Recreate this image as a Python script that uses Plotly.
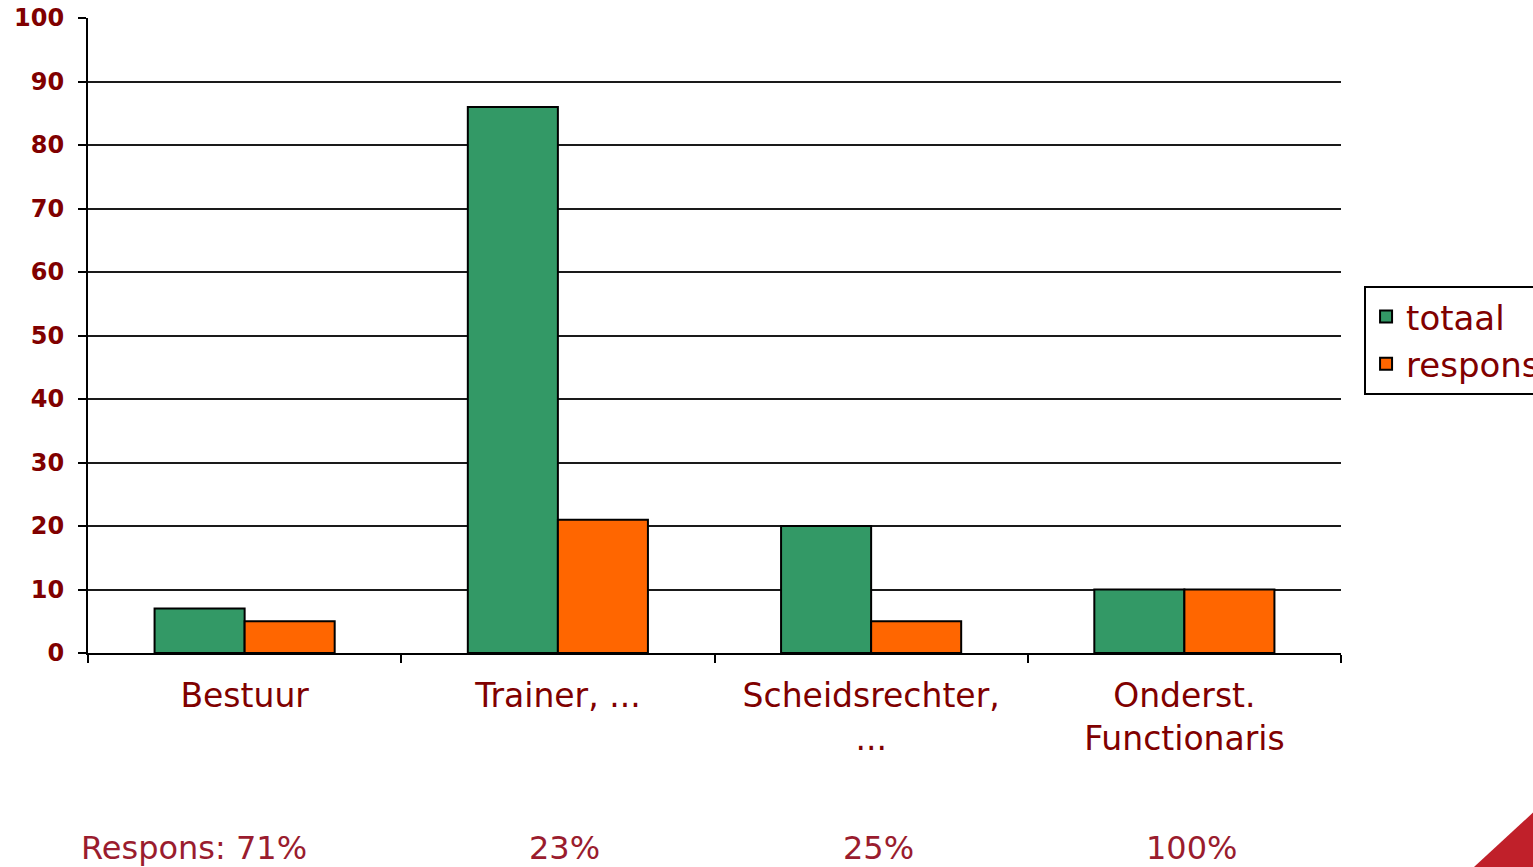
import plotly.graph_objects as go

# ------------------------------------------------------------
# Data
# ------------------------------------------------------------
categories = ["Bestuur", "Trainer, ...", "Scheidsrechter,<br>...", "Onderst.<br>Functionaris"]
totaal = [7, 86, 20, 10]
respons = [5, 21, 5, 10]
respons_pct = ["Respons: 71%", "23%", "25%", "100%"]
y_ticks = [0, 10, 20, 30, 40, 50, 60, 70, 80, 90, 100]

GREEN = "#339966"
ORANGE = "#FF6600"
DARKRED = "#800000"
PCT_RED = "#9a1c2e"
FONT = "Verdana, DejaVu Sans, sans-serif"

fig = go.Figure()
fig.add_trace(go.Bar(x=categories, y=totaal, name="totaal",
                     marker=dict(color=GREEN, line=dict(color="black", width=2))))
fig.add_trace(go.Bar(x=categories, y=respons, name="respons",
                     marker=dict(color=ORANGE, line=dict(color="black", width=2))))

# percentages under each category
for i, txt in enumerate(respons_pct):
    first = i == 0
    fig.add_annotation(x=categories[i], y=-0.307, xref="x", yref="paper", text=txt,
                       showarrow=False, xanchor="left" if first else "center",
                       yanchor="middle", xshift=-166 if first else 7,
                       font=dict(family=FONT, size=32, color=PCT_RED))

# red corner triangle
fig.add_shape(type="path", xref="paper", yref="paper",
              path="M 1.1045 -0.34 L 1.16 -0.34 L 1.16 -0.239 Z",
              fillcolor="#c0202a", line=dict(width=0), layer="above")

fig.update_xaxes(range=[-0.5, 3.5], showline=True, linecolor="black", linewidth=2,
                 ticks="outside", tickson="boundaries", ticklen=8, tickwidth=2, tickcolor="black",
                 ticklabelstandoff=12,
                 tickfont=dict(family=FONT, size=33, color=DARKRED), showgrid=False)
fig.update_yaxes(range=[0, 100], tickvals=y_ticks, showline=True, linecolor="black", linewidth=2,
                 ticks="outside", ticklen=8, tickwidth=2, tickcolor="black", ticklabelstandoff=9,
                 showgrid=True, gridcolor="#1a1a1a", gridwidth=2, zeroline=False,
                 tickfont=dict(family=FONT, size=24, color=DARKRED, weight="bold"))

fig.update_layout(
    width=1533, height=867,
    barmode="group", bargap=0.425, bargroupgap=0,
    plot_bgcolor="white", paper_bgcolor="white",
    margin=dict(l=88, r=192, t=18, b=214, autoexpand=False),
    legend=dict(x=1.0184, y=0.578, xanchor="left", yanchor="top",
                bordercolor="black", borderwidth=2, bgcolor="white",
                font=dict(family=FONT, size=34, color=DARKRED)),
)

# drop the default 8px body margin so the figure fills the window
fig.write_html("out.html", config={"displayModeBar": False},
               post_script="document.body.style.margin='0';")
